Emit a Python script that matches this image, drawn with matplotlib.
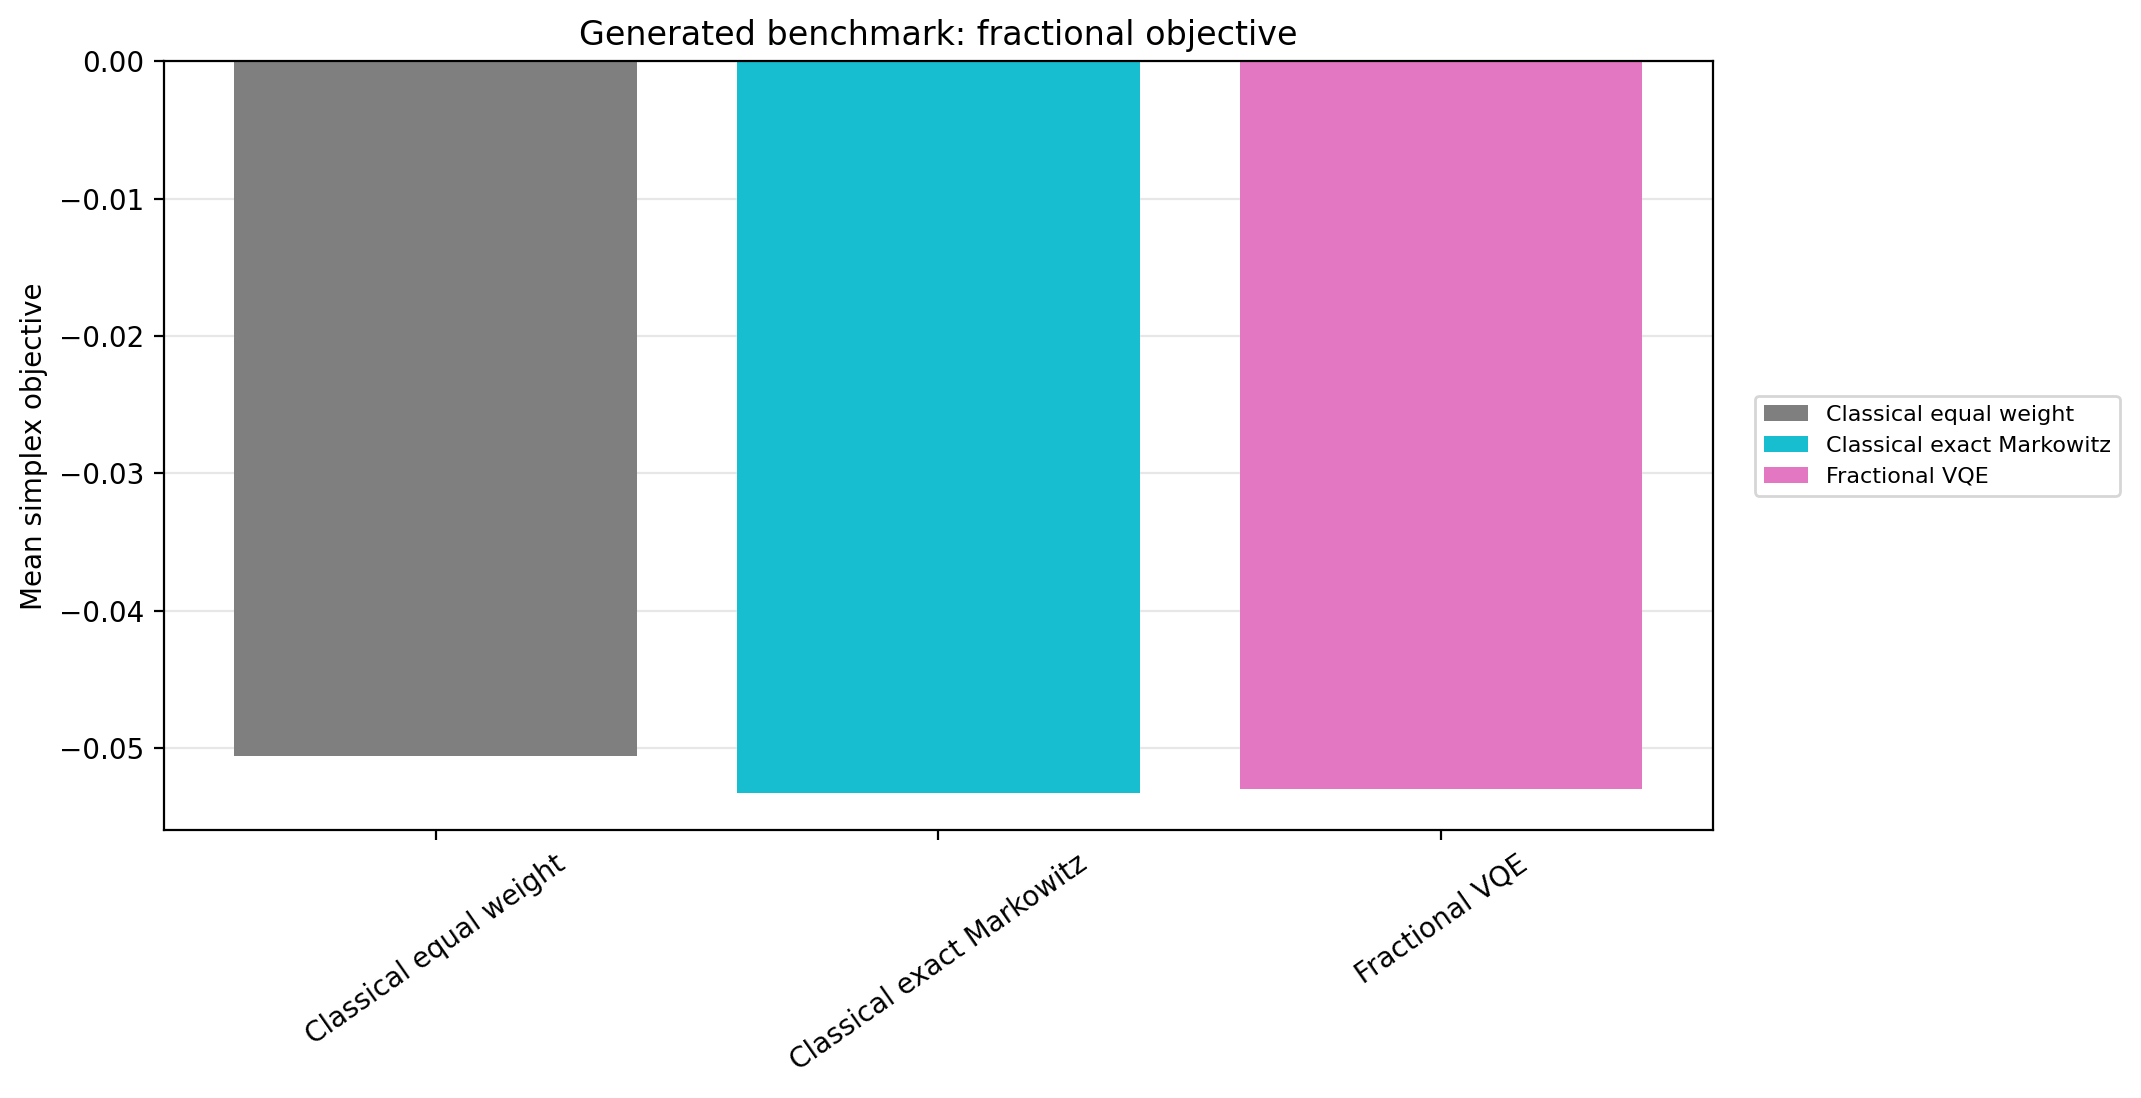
import matplotlib
matplotlib.use("Agg")
import matplotlib.pyplot as plt

methods = ["Classical equal weight", "Classical exact Markowitz", "Fractional VQE"]
objective = [-0.0506, -0.0533, -0.0530]
colors = ["#7f7f7f", "#17becf", "#e377c2"]

fig = plt.figure(figsize=(10.705, 5.49), dpi=200)
ax = fig.add_axes([0.0766, 0.244, 0.7234, 0.7])

for i, (name, val) in enumerate(zip(methods, objective)):
    ax.bar(i, val, color=colors[i], label=name, zorder=2)

ax.set_xticks(range(len(methods)))
ax.set_xticklabels(methods, rotation=35)
ax.set_ylabel("Mean simplex objective")
ax.set_title("Generated benchmark: fractional objective")
ax.grid(axis="y", alpha=0.3, zorder=0)
ax.legend(loc="center left", bbox_to_anchor=(1.02, 0.5), fontsize=8)

fig.savefig("out.png", dpi=200)
